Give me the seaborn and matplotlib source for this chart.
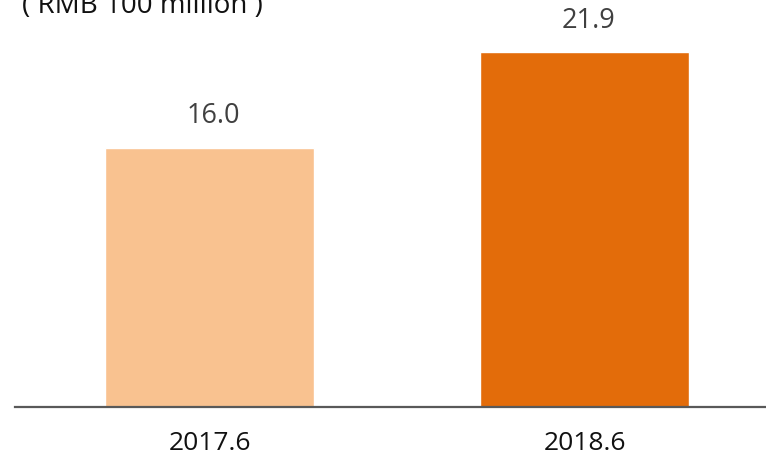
import matplotlib
matplotlib.use("Agg")
import matplotlib.pyplot as plt
import seaborn as sns
import pandas as pd

periods = ["2017.6", "2018.6"]
values = [16.0, 21.9]
bar_colors = ["#F9C290", "#E36C0A"]
unit_label = "( RMB 100 million )"

sns.set_style("white")
plt.rcParams["font.family"] = ["Open Sans", "DejaVu Sans"]

df = pd.DataFrame({"period": periods, "value": values})

fig = plt.figure(figsize=(7.66, 4.58), dpi=100)
ax = fig.add_axes([15 / 766, 51 / 458, 751 / 766, 407 / 458])

sns.barplot(data=df, x="period", y="value", hue="period", palette=bar_colors,
            width=0.557, legend=False, saturation=1, ax=ax)

for i, v in enumerate(values):
    ax.text(i + 0.01, v + 1.5, f"{v:.1f}", ha="center", va="baseline",
            fontsize=19.5, color="#404040")

ax.set_xlim(-0.519, 1.484)
ax.set_ylim(0, 25.12)
ax.set_xlabel("")
ax.set_ylabel("")
ax.set_yticks([])
ax.tick_params(axis="x", length=0, labelsize=19, labelcolor="#111111", pad=17)
for side in ["top", "left", "right"]:
    ax.spines[side].set_visible(False)
ax.spines["bottom"].set_color("#595959")
ax.spines["bottom"].set_linewidth(1.6)

fig.text(22 / 766, 1 - 13 / 458, unit_label, fontsize=20, color="#111111",
         ha="left", va="baseline")

fig.savefig("out.png", dpi=100)
